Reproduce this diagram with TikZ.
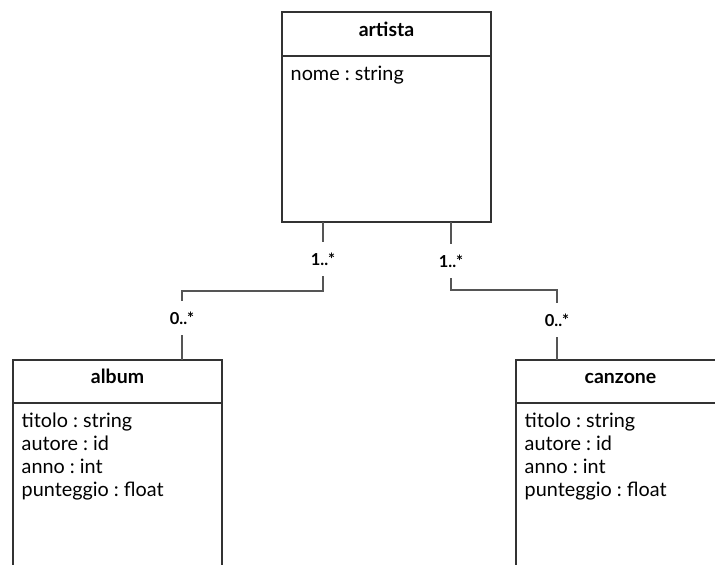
\documentclass[tikz,border=0pt]{standalone}
\usepackage{fontspec}
\setmainfont{Lato}
\frenchspacing
\usetikzlibrary{positioning,calc}

\definecolor{boxcol}{HTML}{333333}
\definecolor{linecol}{HTML}{555555}

\tikzset{
	head/.style={draw=boxcol, line width=2.6pt, outer sep=0pt, inner sep=0pt,
		minimum width=209pt, minimum height=44pt, text height=10pt, text depth=6pt,
		font=\fontsize{19.5}{23}\selectfont\bfseries},
	body/.style={draw=boxcol, line width=2.6pt, outer sep=0pt, inner sep=0pt,
		minimum width=209pt},
	attr/.style={anchor=base west, inner sep=0pt, font=\fontsize{19.8}{23}\selectfont},
	mult/.style={inner sep=0pt, minimum height=34pt, font=\fontsize{16.5}{19}\selectfont\bfseries},
	conn/.style={draw=linecol, line width=2.2pt}
}

\begin{document}
\begin{tikzpicture}[x=1pt,y=-1pt]
		\clip (0,0) rectangle (715,565);
		
		% classi
		\node[head, anchor=north west] (artista-h) at (282,12) {artista};
		\node[body, below=0pt of artista-h, minimum height=166pt] (artista-b) {};
		\node[attr] (artista-a1) at ($(artista-b.north west)+(8.5,24.5)$) {nome : string};
		
		\node[head, anchor=north west, minimum height=43pt] (album-h) at (13,360) {album};
		\node[body, below=0pt of album-h, minimum height=220pt] (album-b) {};
		
		\node[head, anchor=north west, minimum height=43pt] (canzone-h) at (516,360) {canzone};
		\node[body, below=0pt of canzone-h, minimum height=220pt] (canzone-b) {};
		
		\foreach \t [count=\i] in {titolo : string, autore : id, anno : int, punteggio : float}{
			\node[attr] (album-a\i) at ($(album-b.north west)+(8.5,{1.5+23*\i})$) {\t};
			\node[attr] (canzone-a\i) at ($(canzone-b.north west)+(8.5,{1.5+23*\i})$) {\t};
		}
		
		% molteplicita
		\node[mult] (m1) at (323,259) {1..*};
		\node[mult] (m2) at (182,318) {0..*};
		\node[mult] (m3) at (451,261) {1..*};
		\node[mult] (m4) at (557,320) {0..*};
		
		\coordinate (k1) at (0,291);
		\coordinate (k2) at (0,290);
		
		\draw[conn] (artista-b.south -| m1) -- (m1);
		\draw[conn] (m1) -- (m1 |- k1) -| (m2);
		\draw[conn] (m2) -- (m2 |- album-h.north);
		
		\draw[conn] (artista-b.south -| m3) -- (m3);
		\draw[conn] (m3) -- (m3 |- k2) -| (m4);
		\draw[conn] (m4) -- (m4 |- canzone-h.north);
	\end{tikzpicture}
\end{document}
